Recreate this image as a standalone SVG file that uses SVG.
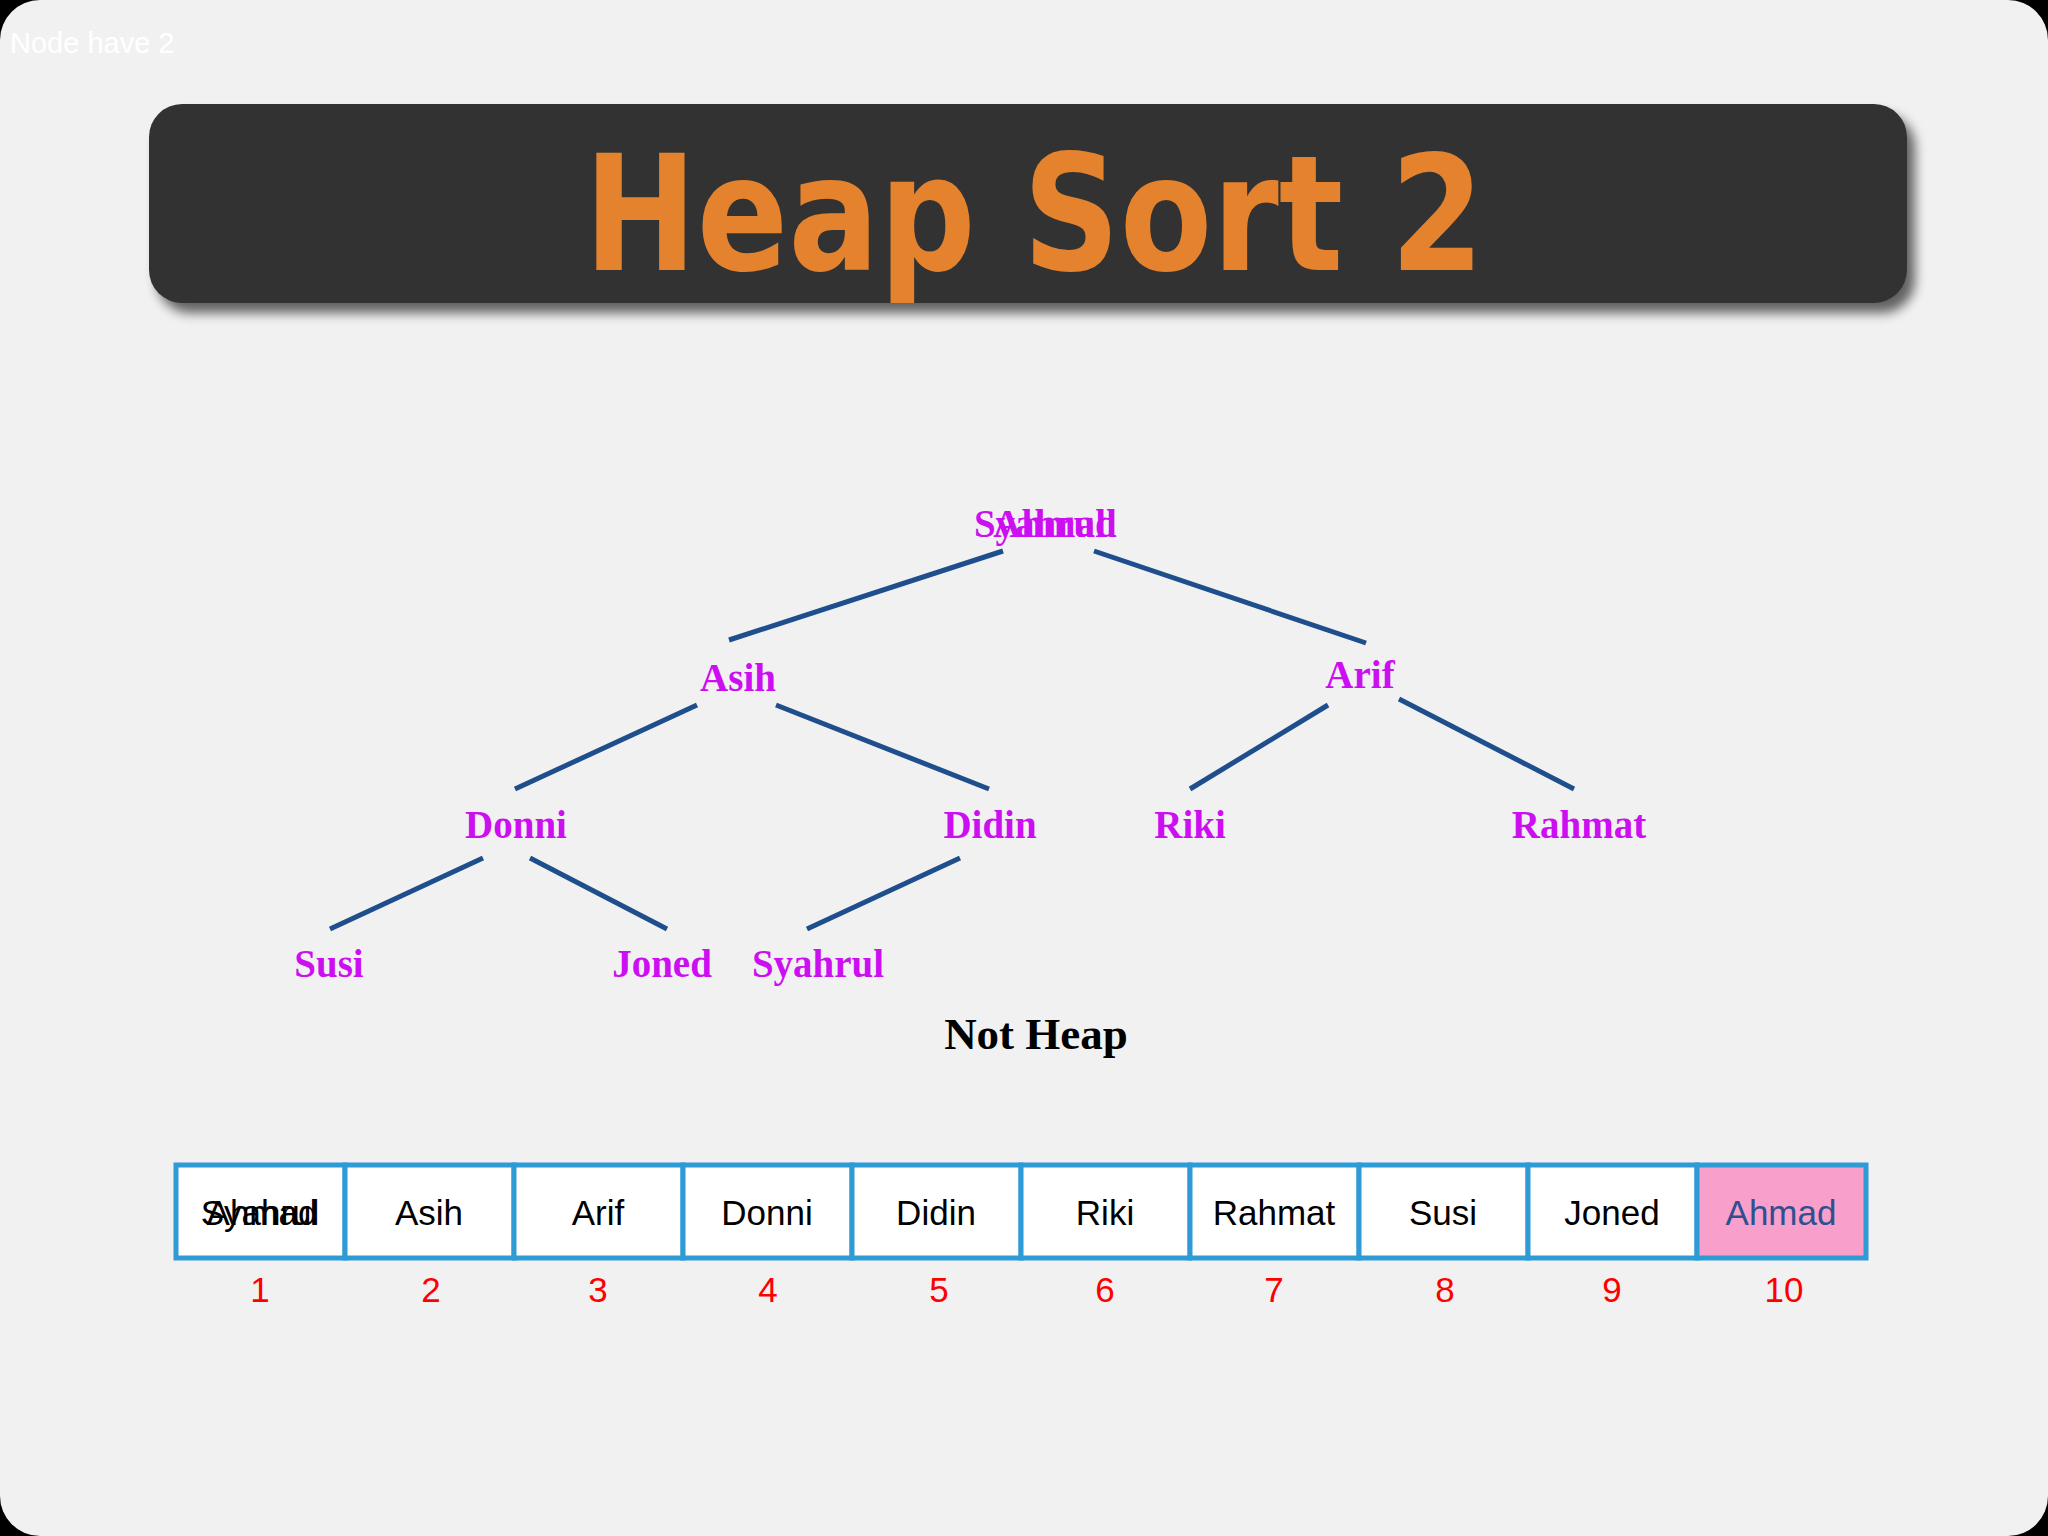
<svg xmlns="http://www.w3.org/2000/svg" width="2048" height="1536" viewBox="0 0 2048 1536">
<defs>
<style>
.n{font-family:"Liberation Serif",serif;font-weight:bold;font-size:39px;fill:#cc0ff0;text-anchor:middle}
.c{fill:#fff;stroke:#2e9ad6;stroke-width:5}
.t{font-family:"Liberation Sans",Arial,sans-serif;font-size:35px;fill:#000;text-anchor:middle}
.i{font-family:"Liberation Sans",Arial,sans-serif;font-size:35px;fill:#f00;text-anchor:middle}
</style>
<filter id="sh" x="-5%" y="-20%" width="115%" height="150%"><feGaussianBlur in="SourceAlpha" stdDeviation="6"/><feOffset dx="8" dy="10"/><feComponentTransfer><feFuncA type="linear" slope="0.6"/></feComponentTransfer><feMerge><feMergeNode/><feMergeNode in="SourceGraphic"/></feMerge></filter>
</defs>
<rect width="2048" height="1536" fill="#000"/>
<rect width="2048" height="1536" rx="40" fill="#f2f1f2"/>
<text x="10" y="53" font-family="Liberation Sans,Arial,sans-serif" font-size="29" fill="#fff">Node have 2</text>
<g id="title">
<rect x="149" y="104" width="1758" height="199" rx="33" fill="#333" filter="url(#sh)"/>
<text x="1034" y="270" font-family="DejaVu Sans,Verdana,sans-serif" font-weight="bold" font-size="160" fill="#e4822e" text-anchor="middle" textLength="900" lengthAdjust="spacingAndGlyphs">Heap Sort 2</text>
</g>
<g id="connectors" stroke="#1f4e8c" stroke-width="5">
<line x1="1003" y1="551" x2="729" y2="640"/>
<line x1="1094" y1="551" x2="1366" y2="643"/>
<line x1="697" y1="705" x2="515" y2="789"/>
<line x1="776" y1="705" x2="989" y2="789"/>
<line x1="1328" y1="705" x2="1190" y2="789"/>
<line x1="1399" y1="699" x2="1574" y2="789"/>
<line x1="483" y1="858" x2="330" y2="929"/>
<line x1="530" y1="858" x2="667" y2="929"/>
<line x1="960" y1="858" x2="807" y2="929"/>
</g>
<g id="root"><text class="n" x="1040" y="537">Syahrul</text><text class="n" x="1055" y="537">Ahmad</text></g>
<g id="asih"><text class="n" x="738" y="691">Asih</text></g>
<g id="arif"><text class="n" x="1360" y="688">Arif</text></g>
<g id="donni"><text class="n" x="516" y="838">Donni</text></g>
<g id="didin"><text class="n" x="990" y="838">Didin</text></g>
<g id="riki"><text class="n" x="1190" y="838">Riki</text></g>
<g id="rahmat"><text class="n" x="1579" y="838">Rahmat</text></g>
<g id="susi"><text class="n" x="329" y="977">Susi</text></g>
<g id="joned"><text class="n" x="662" y="977">Joned</text></g>
<g id="syahrul"><text class="n" x="818" y="977">Syahrul</text></g>
<text x="1036" y="1049" font-family="Liberation Serif,serif" font-weight="bold" font-size="45" text-anchor="middle">Not Heap</text>
<g id="array">
<rect class="c" x="176" y="1165" width="169" height="93"/>
<rect class="c" x="345" y="1165" width="169" height="93"/>
<rect class="c" x="514" y="1165" width="169" height="93"/>
<rect class="c" x="683" y="1165" width="169" height="93"/>
<rect class="c" x="852" y="1165" width="169" height="93"/>
<rect class="c" x="1021" y="1165" width="169" height="93"/>
<rect class="c" x="1190" y="1165" width="169" height="93"/>
<rect class="c" x="1359" y="1165" width="169" height="93"/>
<rect class="c" x="1528" y="1165" width="169" height="93"/>
<rect class="c" x="1697" y="1165" width="169" height="93" style="fill:#f99fcc"/>
<text class="t" x="260" y="1225">Syahrul</text><text class="t" x="262" y="1225">Ahmad</text>
<text class="t" x="429" y="1225">Asih</text>
<text class="t" x="598" y="1225">Arif</text>
<text class="t" x="767" y="1225">Donni</text>
<text class="t" x="936" y="1225">Didin</text>
<text class="t" x="1105" y="1225">Riki</text>
<text class="t" x="1274" y="1225">Rahmat</text>
<text class="t" x="1443" y="1225">Susi</text>
<text class="t" x="1612" y="1225">Joned</text>
<text class="t" x="1781" y="1225" style="fill:#2f4f8f">Ahmad</text>
<text class="i" x="260" y="1302">1</text>
<text class="i" x="431" y="1302">2</text>
<text class="i" x="598" y="1302">3</text>
<text class="i" x="768" y="1302">4</text>
<text class="i" x="939" y="1302">5</text>
<text class="i" x="1105" y="1302">6</text>
<text class="i" x="1274" y="1302">7</text>
<text class="i" x="1445" y="1302">8</text>
<text class="i" x="1612" y="1302">9</text>
<text class="i" x="1784" y="1302">10</text>
</g>
</svg>
